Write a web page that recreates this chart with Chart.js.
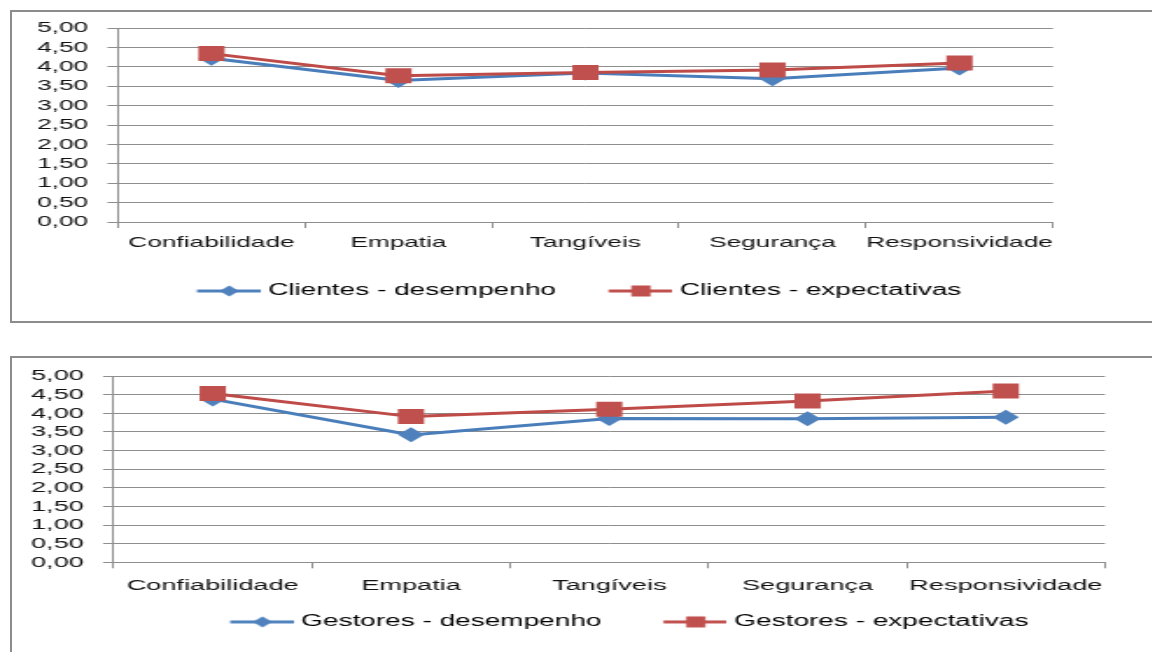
<!DOCTYPE html>
<html lang="pt">
<head>
<meta charset="utf-8">
<title>Clientes e Gestores – desempenho e expectativas</title>
<script src="https://cdn.jsdelivr.net/npm/chart.js@4.4.1/dist/chart.umd.min.js"></script>
<style>
  html, body { margin: 0; padding: 0; background: #fff; }
  body { width: 1152px; height: 652px; position: relative; overflow: hidden; }
  .frame { position: absolute; left: 10px; width: 1250px; border: 2px solid #8c8c8c; border-right: none; box-sizing: border-box; }
  #frameTop { top: 10px; height: 313px; }
  #frameBottom { top: 356px; height: 400px; border-bottom: none; }
  /* the whole figure is drawn wide: canvases are stretched horizontally */
  .stretch { position: absolute; left: 0; transform-origin: 0 0; transform: scaleX(1.75); }
  #wrapTop { top: 0; }
  #wrapBottom { top: 345px; }
</style>
</head>
<body>
<div class="frame" id="frameTop"></div>
<div class="frame" id="frameBottom"></div>
<div class="stretch" id="wrapTop"><canvas id="chartTop" width="658" height="330"></canvas></div>
<div class="stretch" id="wrapBottom"><canvas id="chartBottom" width="658" height="307"></canvas></div>
<script>
// Dimensões do SERVQUAL
const categories = ['Confiabilidade', 'Empatia', 'Tangíveis', 'Segurança', 'Responsividade'];
const yTickLabels = ['0,00', '0,50', '1,00', '1,50', '2,00', '2,50', '3,00', '3,50', '4,00', '4,50', '5,00'];

// Clientes
const clientesDesempenho = [4.22, 3.65, 3.84, 3.69, 3.97];
const clientesExpectativas = [4.34, 3.77, 3.85, 3.92, 4.10];

// Gestores
const gestoresDesempenho = [4.38, 3.42, 3.86, 3.85, 3.89];
const gestoresExpectativas = [4.53, 3.91, 4.11, 4.33, 4.60];

const BLUE_LINE = '#4A7EBB', BLUE_MARK = '#4F81BD';
const RED_LINE = '#BE4B48', RED_MARK = '#C0504D';
const GRID = '#8e8e8e';
const TEXT = '#111111';
const FAMILY = '"Liberation Sans", Arial, sans-serif';

Chart.defaults.font.family = FAMILY;
Chart.defaults.color = TEXT;

// line + marker swatch used as the legend symbol; the visible part sits at
// the right end of the image so that it hugs the legend text
function legendSwatch(color, shape, boxWidth) {
  const w = boxWidth + 8, line = 37, x0 = w - line, cx = x0 + line / 2;
  const c = document.createElement('canvas');
  c.width = w; c.height = 16;
  const g = c.getContext('2d');
  g.strokeStyle = color; g.lineWidth = 3;
  g.beginPath(); g.moveTo(x0, 8); g.lineTo(w, 8); g.stroke();
  g.fillStyle = color;
  if (shape === 'diamond') {
    g.beginPath();
    g.moveTo(cx, 2.5); g.lineTo(cx + 5.5, 8); g.lineTo(cx, 13.5); g.lineTo(cx - 5.5, 8);
    g.closePath(); g.fill();
  } else {
    g.fillRect(cx - 5.5, 2.5, 11, 11);
  }
  return c;
}

// places the legend row around a given horizontal centre
const legendCenter = {
  id: 'legendCenter',
  afterLayout(chart, args, opts) {
    const lg = chart.legend;
    if (!lg || opts.x == null) return;
    const w = lg.right - lg.left;
    lg.left = opts.x - w / 2;
    lg.right = opts.x + w / 2;
  }
};

function makeChart(canvasId, s) {
  const swatches = [
    legendSwatch(BLUE_MARK, 'diamond', s.boxWidth),
    legendSwatch(RED_MARK, 'square', s.boxWidth)
  ];
  const datasets = [
    {
      label: s.labels[0], data: s.blue,
      borderColor: BLUE_LINE, backgroundColor: BLUE_MARK, borderWidth: 3, tension: 0,
      pointStyle: 'rectRot', pointRadius: 7.5, pointBackgroundColor: BLUE_MARK,
      pointBorderWidth: 0, order: 1
    },
    {
      label: s.labels[1], data: s.red,
      borderColor: RED_LINE, backgroundColor: RED_MARK, borderWidth: 3, tension: 0,
      pointStyle: 'rect', pointRadius: 10.6, pointBackgroundColor: RED_MARK,
      pointBorderWidth: 0, order: 0
    }
  ];
  return new Chart(document.getElementById(canvasId), {
    type: 'line',
    data: { labels: categories, datasets },
    plugins: [legendCenter],
    options: {
      responsive: false,
      animation: false,
      events: [],
      layout: { padding: s.padding },
      scales: {
        x: {
          offset: true,
          grid: { display: true, offset: true, drawOnChartArea: false, drawTicks: true, tickLength: 6, color: GRID },
          border: { display: true, color: GRID, width: 1 },
          ticks: { font: { size: s.axisFont }, color: TEXT, padding: s.xPad, maxRotation: 0, autoSkip: false },
          afterFit(scale) { scale.height = s.xHeight; scale.paddingLeft = 0; scale.paddingRight = 0; }
        },
        y: {
          min: 0, max: 5,
          ticks: {
            stepSize: 0.5, autoSkip: false, padding: 11, font: { size: s.axisFont }, color: TEXT,
            callback: (v, i) => yTickLabels[i]
          },
          grid: { color: GRID, lineWidth: 1, drawTicks: true, tickLength: 6 },
          border: { display: true, color: GRID, width: 1 },
          afterFit(scale) { scale.width = s.yWidth; scale.paddingTop = 0; scale.paddingBottom = 0; }
        }
      },
      plugins: {
        tooltip: { enabled: false },
        legendCenter: { x: s.legendX },
        legend: {
          position: 'bottom',
          labels: {
            usePointStyle: true,
            pointStyleWidth: s.boxWidth,
            padding: s.legendPad,
            color: TEXT,
            font: { size: 16 },
            generateLabels: (chart) => chart.data.datasets.map((ds, i) => ({
              text: ds.label,
              pointStyle: swatches[i],
              fillStyle: ds.backgroundColor,
              strokeStyle: ds.borderColor,
              lineWidth: 0,
              hidden: false,
              datasetIndex: i
            }))
          }
        }
      }
    }
  });
}

makeChart('chartTop', {
  labels: ['Clientes - desempenho', 'Clientes - expectativas'],
  blue: clientesDesempenho, red: clientesExpectativas,
  padding: { top: 28, right: 56.3, bottom: 21, left: 0 },
  yWidth: 67.4, xHeight: 30, xPad: 6, axisFont: 15,
  legendPad: 31, boxWidth: 31.7, legendX: 331.4
});

makeChart('chartBottom', {
  labels: ['Gestores - desempenho', 'Gestores - expectativas'],
  blue: gestoresDesempenho, red: gestoresExpectativas,
  padding: { top: 31, right: 26.6, bottom: 12.1, left: 0 },
  yWidth: 64.9, xHeight: 32.6, xPad: 8, axisFont: 15.5,
  legendPad: 19, boxWidth: 48.9, legendX: 351.4
});
</script>
</body>
</html>
